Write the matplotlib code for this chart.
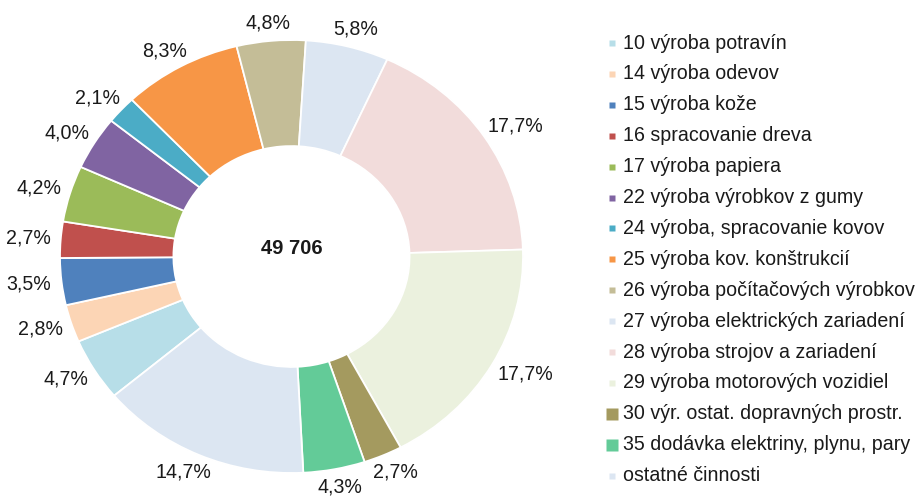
import numpy as np
import matplotlib
matplotlib.use("Agg")
import matplotlib.pyplot as plt

plt.rcParams['font.family'] = ['Liberation Sans', 'DejaVu Sans']

categories = [
    "10 výroba potravín",
    "14 výroba odevov",
    "15 výroba kože",
    "16 spracovanie dreva",
    "17 výroba papiera",
    "22 výroba výrobkov z gumy",
    "24 výroba, spracovanie kovov",
    "25 výroba kov. konštrukcií",
    "26 výroba počítačových výrobkov",
    "27 výroba elektrických zariadení",
    "28 výroba strojov a zariadení",
    "29 výroba motorových vozidiel",
    "30 výr. ostat. dopravných prostr.",
    "35 dodávka elektriny, plynu, pary",
    "ostatné činnosti",
]
shares = [4.7, 2.8, 3.5, 2.7, 4.2, 4.0, 2.1, 8.3, 4.8, 5.8, 17.7, 17.7, 2.7, 4.3, 14.7]
colors = [
    "#B7DEE8", "#FCD5B5", "#4F81BD", "#C0504D", "#9BBB59",
    "#8064A2", "#4BACC6", "#F79646", "#C4BD97", "#DCE6F2",
    "#F2DCDB", "#EBF1DE", "#A49A5F", "#63CB98", "#DCE6F2",
]
big_marker = [False] * 12 + [True, True, False]
total_label = "49 706"

W, H = 919, 498
fig = plt.figure(figsize=(W / 100, H / 100), dpi=100)
txt_color = "#1a1a1a"
fs = 14.1

# pie axes
px0, px1, py0, py1 = 60, 523, 40, 473
ax = fig.add_axes([px0 / W, (H - py1) / H, (px1 - px0) / W, (py1 - py0) / H])
wedges, _ = ax.pie(shares, colors=colors, startangle=220, counterclock=False,
                   radius=1.0,
                   wedgeprops=dict(width=0.49, edgecolor="white", linewidth=1.3))
ax.set_aspect("auto")
ax.set_xlim(-1, 1)
ax.set_ylim(-1, 1)
ax.axis("off")

renderer = fig.canvas.get_renderer()
inv = ax.transData.inverted()
r_anchor = 1.04
for w, v in zip(wedges, shares):
    mid = np.deg2rad((w.theta1 + w.theta2) / 2)
    t = ax.text(0, 0, f"{v:.1f}".replace(".", ",") + "%",
                ha="center", va="center", fontsize=fs, color=txt_color, clip_on=False)
    bb = t.get_window_extent(renderer)
    hw, hh = bb.width / 2 + 1, bb.height / 2
    pxy = ax.transData.transform((r_anchor * np.cos(mid), r_anchor * np.sin(mid)))
    pxy = pxy + np.array([hw * np.cos(mid), hh * np.sin(mid)])
    t.set_position(inv.transform(pxy))

ax.text(0, 0.035, total_label, ha="center", va="center", fontsize=14.5,
        fontweight="bold", color=txt_color)

# legend
lax = fig.add_axes([0, 0, 1, 1])
lax.set_xlim(0, W)
lax.set_ylim(H, 0)
lax.axis("off")
y0, dy = 43, 30.9
for i, (c, col, big) in enumerate(zip(categories, colors, big_marker)):
    y = y0 + i * dy
    lax.plot([612], [y], marker="s", ms=8 if big else 5, color=col,
             mec="none", linestyle="none")
    lax.text(623, y, c, ha="left", va="center", fontsize=fs, color=txt_color)

fig.savefig("out.png", dpi=100)
